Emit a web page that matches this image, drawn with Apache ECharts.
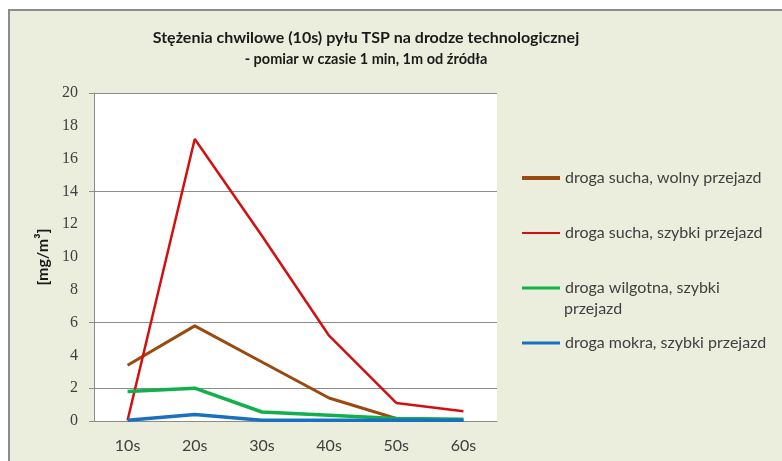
<!DOCTYPE html>
<html>
<head>
<meta charset="utf-8">
<script src="https://cdn.jsdelivr.net/npm/echarts@6/dist/echarts.min.js"></script>
<style>
  html, body { margin: 0; padding: 0; background: #ffffff; }
</style>
</head>
<body>
<div id="chart" style="width: 782px; height: 461px;"></div>
<script>
// kategorie (czas pomiaru)
var categories = ["10s", "20s", "30s", "40s", "50s", "60s"];
var seriesNames = [
  "droga sucha, wolny przejazd",
  "droga sucha, szybki przejazd",
  "droga wilgotna, szybki przejazd",
  "droga mokra, szybki przejazd"
];
var suchaWolny = [3.4, 5.8, 3.6, 1.4, 0.15, 0.05];
var suchaSzybki = [0.05, 17.2, 11.3, 5.2, 1.1, 0.6];
var wilgotnaSzybki = [1.8, 2.0, 0.55, 0.35, 0.15, 0.1];
var mokraSzybki = [0.05, 0.4, 0.05, 0.05, 0.05, 0.05];
var gridValues = [2, 6, 14, 20]; // linie siatki jak w oryginale
var tickValues = [0, 2, 6, 14, 20];

var colors = ["#9a4a10", "#d40f0f", "#12b04c", "#1a70c0"];
var seriesData = [suchaWolny, suchaSzybki, wilgotnaSzybki, mokraSzybki];
var lineWidths = [3, 2.5, 3.5, 3.5];
var legendWidths = [4, 2, 3, 3];
var legendCenters = [177, 232, 287, 342];

var chart = echarts.init(document.getElementById("chart"));

var series = seriesData.map(function (d, i) {
  var s = {
    name: seriesNames[i],
    type: "line",
    data: d,
    symbol: "none",
    lineStyle: { color: colors[i], width: lineWidths[i] },
    itemStyle: { color: colors[i] },
    z: 3 + i
  };
  if (i === 0) {
    s.markLine = {
      silent: true,
      symbol: "none",
      label: { show: false },
      lineStyle: { color: "#8c8c8c", type: "solid", width: 1 },
      data: gridValues.map(function (v) { return { yAxis: v }; }),
      z: 1
    };
  }
  return s;
});

var legends = seriesNames.map(function (n, i) {
  return {
    data: [{ name: n, icon: "rect", itemStyle: { color: colors[i] } }],
    left: 522,
    top: legendCenters[i] - 7,
    padding: 0,
    itemWidth: 38,
    itemHeight: legendWidths[i],
    selectedMode: false,
    formatter: function (name) {
      return name === "droga wilgotna, szybki przejazd" ? "droga wilgotna, szybki" : name;
    },
    textStyle: { fontFamily: "Lato", fontSize: 16, color: "#404040" }
  };
});

var option = {
  backgroundColor: "#ffffff",
  animation: false,
  graphic: [
    {
      type: "rect",
      z: -10,
      shape: { x: 9, y: 10, width: 800, height: 500 },
      style: { fill: "#ebeedd", stroke: "#8c8c8c", lineWidth: 2 }
    },
    {
      type: "text",
      left: 564,
      top: 301,
      style: { text: "przejazd", font: "16px Lato", fill: "#404040" }
    }
  ],
  title: {
    text: "Stężenia chwilowe (10s) pyłu TSP na drodze technologicznej",
    subtext: "- pomiar w czasie 1 min, 1m od źródła",
    left: 361,
    top: 25,
    textAlign: "center",
    itemGap: 6,
    textStyle: { fontFamily: "Lato", fontSize: 16, fontWeight: "bold", color: "#1a1a1a" },
    subtextStyle: { fontFamily: "Lato", fontSize: 14.5, fontWeight: "bold", color: "#1a1a1a" }
  },
  legend: legends,
  grid: {
    left: 94,
    top: 93,
    width: 403,
    height: 328,
    show: true,
    backgroundColor: "#ffffff",
    borderWidth: 0
  },
  xAxis: {
    type: "category",
    data: categories,
    boundaryGap: true,
    axisLine: { lineStyle: { color: "#8c8c8c", width: 1 } },
    axisTick: { show: false },
    axisLabel: { fontFamily: "Lato", fontSize: 16, color: "#404040", margin: 17 }
  },
  yAxis: {
    type: "value",
    min: 0,
    max: 20,
    interval: 2,
    name: "[mg/m³]",
    nameLocation: "middle",
    nameRotate: 90,
    nameGap: 42,
    nameTextStyle: { fontFamily: "Lato", fontSize: 16, fontWeight: "bold", color: "#1a1a1a" },
    axisLine: { show: true, lineStyle: { color: "#8c8c8c", width: 1 } },
    axisTick: { show: true, length: 5, customValues: tickValues, lineStyle: { color: "#8c8c8c" } },
    splitLine: { show: false },
    axisLabel: { fontFamily: "Liberation Serif", fontSize: 16, color: "#404040", margin: 16 }
  },
  series: series
};

chart.setOption(option);
</script>
</body>
</html>
